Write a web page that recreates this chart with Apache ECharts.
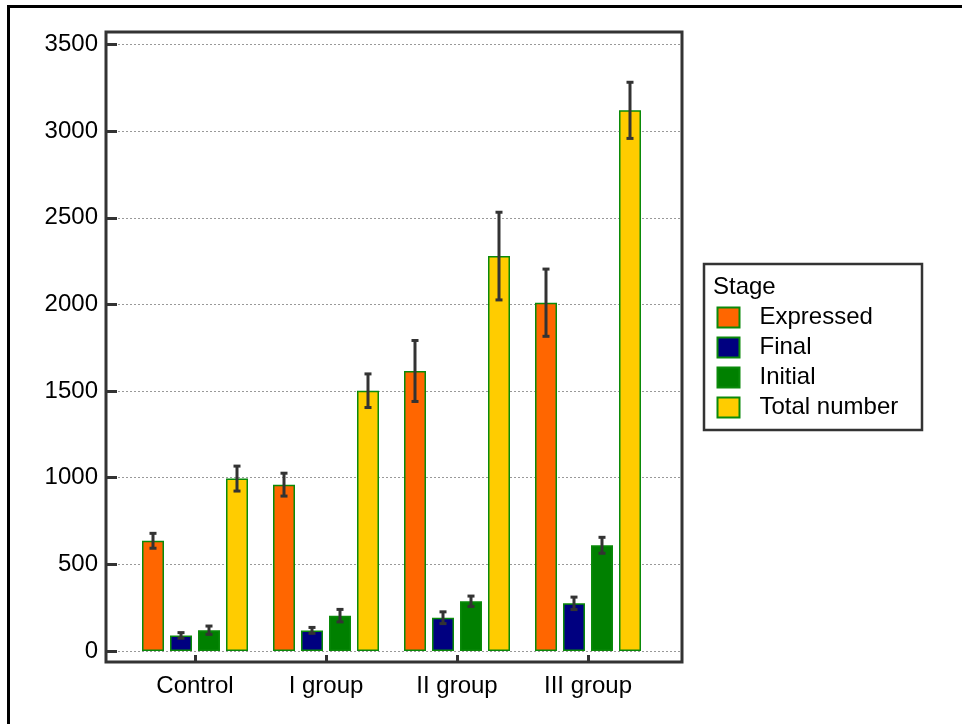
<!DOCTYPE html>
<html>
<head>
<meta charset="utf-8">
<script src="https://cdn.jsdelivr.net/npm/echarts@6/dist/echarts.min.js"></script>
<style>html,body{margin:0;padding:0;background:#fff;}#main{width:962px;height:724px;}</style>
</head>
<body>
<div id="main"></div>
<script>
var categories = ['Control', 'I group', 'II group', 'III group'];
var stages = ['Expressed', 'Final', 'Initial', 'Total number'];
var expressed = [636, 960, 1616, 2010];
var expressedErr = [43, 66, 176, 194];
var finalV = [90, 119, 192, 275];
var finalErr = [16, 17, 34, 36];
var initial = [120, 204, 287, 610];
var initialErr = [24, 36, 30, 46];
var total = [995, 1502, 2279, 3120];
var totalErr = [72, 97, 253, 162];
var yTicks = [0, 500, 1000, 1500, 2000, 2500, 3000, 3500];

var values = [expressed, finalV, initial, total];
var errors = [expressedErr, finalErr, initialErr, totalErr];
var colors = ['#FF6600', '#000080', '#008000', '#FFCC00'];
var FONT = 'Liberation Sans, Arial, sans-serif';
var BAR_W = 22, BAR_GAP = 6;
var Y_BELOW = -63.5; // axis extends a little below zero, as in the reference frame

var chart = echarts.init(document.getElementById('main'));

var series = [];
stages.forEach(function (name, si) {
  series.push({
    name: name,
    type: 'bar',
    xAxisIndex: 1, yAxisIndex: 1,
    data: values[si],
    barWidth: BAR_W,
    barGap: (BAR_GAP / BAR_W * 100) + '%',
    itemStyle: { color: colors[si], borderColor: '#0a8a0a', borderWidth: 1.5 },
    emphasis: { disabled: true },
    silent: true
  });
});
stages.forEach(function (name, si) {
  var data = values[si].map(function (v, i) { return [i, v - errors[si][i], v + errors[si][i]]; });
  series.push({
    type: 'custom',
    xAxisIndex: 1, yAxisIndex: 1,
    data: data,
    z: 10,
    silent: true,
    renderItem: function (params, api) {
      var off = (si - 1.5) * (BAR_W + BAR_GAP);
      var lo = api.coord([api.value(0), api.value(1)]);
      var hi = api.coord([api.value(0), api.value(2)]);
      var x = lo[0] + off;
      var cap = 3.5;
      var st = { stroke: '#333', lineWidth: 3 };
      return {
        type: 'group',
        children: [
          { type: 'line', shape: { x1: x, y1: lo[1], x2: x, y2: hi[1] }, style: st },
          { type: 'line', shape: { x1: x - cap, y1: lo[1], x2: x + cap, y2: lo[1] }, style: st },
          { type: 'line', shape: { x1: x - cap, y1: hi[1], x2: x + cap, y2: hi[1] }, style: st }
        ]
      };
    }
  });
});

var option = {
  animation: false,
  backgroundColor: '#fff',
  grid: [
    { left: 106, right: 280, top: 44.5, bottom: 73 },
    { left: 129.5, right: 308.5, top: 44.5, bottom: 62 },
    { left: 106, right: 280, top: 32, bottom: 62, show: true, borderColor: '#333', borderWidth: 3, backgroundColor: 'transparent' }
  ],
  xAxis: [
    { gridIndex: 0, type: 'value', show: false, min: 0, max: 1 },
    {
      gridIndex: 1, type: 'category', data: categories, position: 'bottom',
      axisLine: { show: false, onZero: false },
      axisTick: { show: true, inside: true, alignWithLabel: true, length: 7, lineStyle: { color: '#333', width: 3 } },
      axisLabel: { color: '#000', fontFamily: FONT, fontSize: 24, margin: 12 },
      splitLine: { show: false }
    },
    { gridIndex: 2, type: 'value', show: false, min: 0, max: 1 }
  ],
  yAxis: [
    {
      gridIndex: 0, type: 'value', min: yTicks[0], max: yTicks[yTicks.length - 1], interval: yTicks[1] - yTicks[0],
      axisLine: { show: false },
      axisTick: { show: true, inside: true, length: 11, lineStyle: { color: '#333', width: 3 } },
      axisLabel: { color: '#000', fontFamily: FONT, fontSize: 24, margin: 8, formatter: function (v) { return String(v); } },
      splitLine: { show: true, lineStyle: { color: '#999', type: [2, 2], width: 1 } }
    },
    { gridIndex: 1, type: 'value', min: Y_BELOW, max: yTicks[yTicks.length - 1], show: false, splitLine: { show: false } },
    { gridIndex: 2, type: 'value', show: false, min: 0, max: 1 }
  ],
  legend: {
    data: stages,
    orient: 'vertical',
    left: 716.5, top: 305.5,
    padding: 0,
    itemWidth: 22, itemHeight: 20, itemGap: 6,
    icon: 'rect',
    selectedMode: false,
    textStyle: { color: '#000', fontFamily: FONT, fontSize: 24, padding: [0, 0, 0, 15] }
  },
  graphic: [
    { type: 'line', shape: { x1: 8, y1: 6.5, x2: 962, y2: 6.5 }, style: { stroke: '#000', lineWidth: 3 }, silent: true },
    { type: 'line', shape: { x1: 8.5, y1: 5, x2: 8.5, y2: 724 }, style: { stroke: '#000', lineWidth: 3 }, silent: true },
    { type: 'rect', shape: { x: 704, y: 264, width: 218, height: 166 }, style: { fill: 'none', stroke: '#333', lineWidth: 2.5 }, silent: true },
    { type: 'text', left: 713, top: 275, style: { text: 'Stage', fill: '#000', font: '24px ' + FONT }, silent: true }
  ],
  series: series
};
chart.setOption(option);
</script>
</body>
</html>
